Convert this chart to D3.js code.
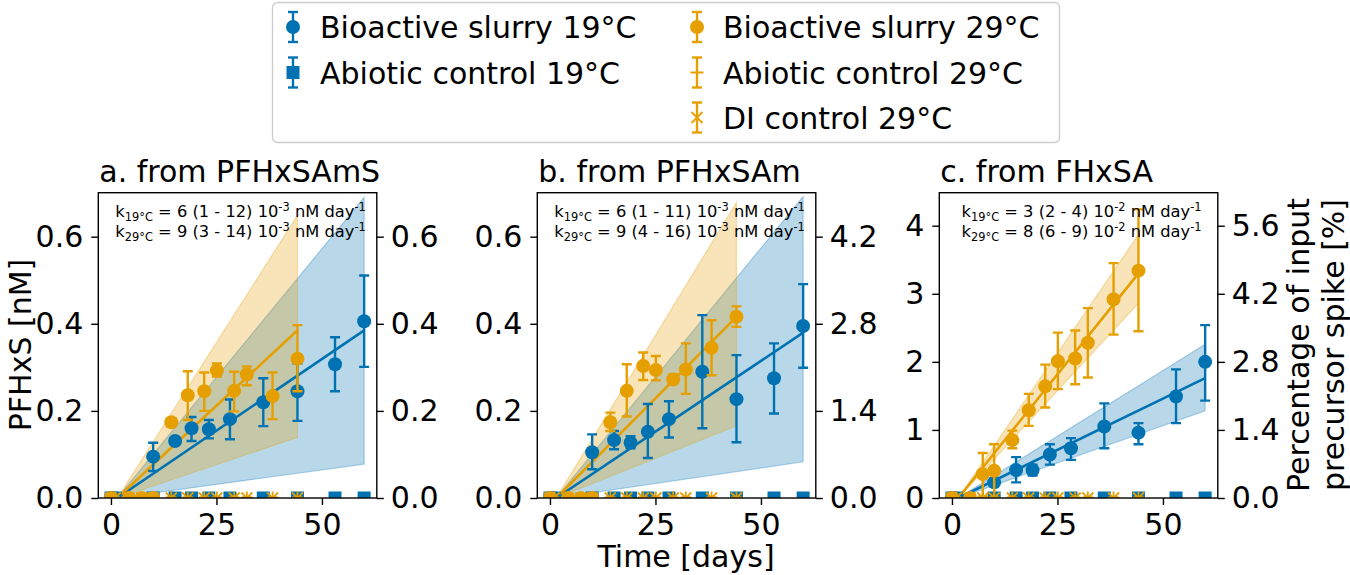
<!DOCTYPE html>
<html><head><meta charset="utf-8">
<script src="https://cdn.jsdelivr.net/npm/d3@7"></script>
<style>body{margin:0;background:#fff} svg{display:block} text{font-family:"DejaVu Sans",sans-serif;fill:#000}</style>
</head><body><svg id="c" width="1350" height="575"></svg>
<script>
// ---------------- data ----------------
const panelTitles = ["a. from PFHxSAmS", "b. from PFHxSAm", "c. from FHxSA"];
const days19 = [0, 10, 15.2, 19.1, 23.2, 28.2, 36.1, 44.2, 53.1, 60];
const days29 = [0, 4.3, 7.3, 10, 14.3, 18.2, 22.1, 25.1, 29.2, 32.2, 38.3, 44.2];
const ctrlDays19 = [0, 1, 10, 15.2, 19.1, 23.2, 28.2, 36.1, 44.2, 53.1, 60];
const ctrlDays29 = [0, 1, 4.3, 7.3, 10, 14.3, 18.2, 22.1, 25.1, 29.2, 32.2, 38.3, 44.2];

const a19   = [0, 0.095, 0.131, 0.160, 0.158, 0.181, 0.220, 0.245, 0.307, 0.406];
const a19lo = [0, 0.062, 0.125, 0.131, 0.137, 0.135, 0.165, 0.177, 0.245, 0.301];
const a19hi = [0, 0.127, 0.137, 0.186, 0.179, 0.226, 0.275, 0.309, 0.369, 0.511];
const a29   = [0, 0, 0, 0, 0.174, 0.236, 0.245, 0.293, 0.246, 0.284, 0.234, 0.320];
const a29lo = [0, 0, 0, 0, 0.164, 0.179, 0.200, 0.279, 0.199, 0.259, 0.181, 0.245];
const a29hi = [0, 0, 0, 0, 0.183, 0.291, 0.288, 0.309, 0.290, 0.302, 0.288, 0.397];

const b19   = [0, 0.105, 0.133, 0.127, 0.152, 0.181, 0.290, 0.227, 0.275, 0.395];
const b19lo = [0, 0.066, 0.112, 0.114, 0.092, 0.139, 0.160, 0.128, 0.194, 0.299];
const b19hi = [0, 0.146, 0.154, 0.142, 0.216, 0.222, 0.420, 0.328, 0.355, 0.491];
const b29   = [0, 0, 0, 0, 0.174, 0.246, 0.303, 0.294, 0.272, 0.295, 0.345, 0.416];
const b29lo = [0, 0, 0, 0, 0.154, 0.187, 0.271, 0.270, 0.264, 0.239, 0.282, 0.393];
const b29hi = [0, 0, 0, 0, 0.196, 0.307, 0.334, 0.326, 0.284, 0.355, 0.408, 0.440];

const c19   = [0, 0.23, 0.41, 0.41, 0.64, 0.73, 1.05, 0.96, 1.49, 2.00];
const c19lo = [0, 0.20, 0.23, 0.33, 0.49, 0.56, 0.73, 0.79, 1.10, 1.43];
const c19hi = [0, 0.26, 0.60, 0.49, 0.79, 0.88, 1.39, 1.10, 1.89, 2.54];
const c29   = [0, 0, 0.35, 0.40, 0.85, 1.29, 1.64, 2.01, 2.05, 2.28, 2.92, 3.34];
const c29lo = [0, 0, 0.02, 0.00, 0.73, 1.06, 1.33, 1.60, 1.67, 1.77, 2.40, 2.45];
const c29hi = [0, 0, 0.66, 0.79, 0.99, 1.53, 1.96, 2.43, 2.46, 2.79, 3.45, 4.24];

// fitted rate lines: y = k (t - t0)
const fitT0 = 1.5;
const fitEnd19 = 60, fitEnd29 = 44.2;
const k19   = [0.00658, 0.00649, 0.0301];
const k19lo = [0.00133, 0.00142, 0.0219];
const k19hi = [0.0118, 0.01183, 0.0386];
const k29   = [0.00902, 0.00974, 0.0773];
const k29lo = [0.00326, 0.00388, 0.0670];
const k29hi = [0.0152, 0.0159, 0.0906];

const kText19 = ["6 (1 - 12)", "6 (1 - 11)", "3 (2 - 4)"];
const kText29 = ["9 (3 - 14)", "9 (4 - 16)", "8 (6 - 9)"];
const kExp = ["-3", "-3", "-2"];

const xTicks = [0, 25, 50];
const yMax = [0.701, 0.701, 4.485];
const yTicksLeft = [[0, 0.2, 0.4, 0.6], [0, 0.2, 0.4, 0.6], [0, 1, 2, 3, 4]];
const rightFactor = [1, 7, 1.4];
const yTicksRight = [[0, 0.2, 0.4, 0.6], [0, 1.4, 2.8, 4.2], [0, 1.4, 2.8, 4.2, 5.6]];

const legendLabels = ["Bioactive slurry 19°C", "Abiotic control 19°C", "Bioactive slurry 29°C", "Abiotic control 29°C", "DI control 29°C"];

// ---------------- drawing ----------------
const series19 = [[a19, a19lo, a19hi], [b19, b19lo, b19hi], [c19, c19lo, c19hi]];
const series29 = [[a29, a29lo, a29hi], [b29, b29lo, b29hi], [c29, c29lo, c29hi]];
const C19 = "#0072B2", C29 = "#E69F00";
const FS = 30;
const svg = d3.select("#c");
const defs = svg.append("defs");
const axTop = 192.7, axBot = 498, axW = 278.5;
const axLeft = [98.3, 537.3, 939.3];
const R = 7, CAP = 5, EW = 2.4;

function drawMarker(g, type, cx, cy, color) {
  if (type === "o") g.append("circle").attr("cx", cx).attr("cy", cy).attr("r", R).attr("fill", color);
  else if (type === "s") g.append("rect").attr("x", cx - 6.5).attr("y", cy - 6.5).attr("width", 13).attr("height", 13).attr("fill", color);
  else if (type === "+") {
    g.append("path").attr("d", `M${cx-6.5},${cy}H${cx+6.5}M${cx},${cy-6.5}V${cy+6.5}`).attr("stroke", color).attr("stroke-width", 1.8).attr("fill", "none");
  } else if (type === "x") {
    g.append("path").attr("d", `M${cx-5.5},${cy-5.5}L${cx+5.5},${cy+5.5}M${cx-5.5},${cy+5.5}L${cx+5.5},${cy-5.5}`).attr("stroke", color).attr("stroke-width", 1.8).attr("fill", "none");
  }
}
function drawErr(g, cx, yLo, yHi, color) {
  g.append("line").attr("x1", cx).attr("x2", cx).attr("y1", yLo).attr("y2", yHi).attr("stroke", color).attr("stroke-width", EW);
  [yLo, yHi].forEach(yy => g.append("line").attr("x1", cx - CAP).attr("x2", cx + CAP).attr("y1", yy).attr("y2", yy).attr("stroke", color).attr("stroke-width", EW));
}

panelTitles.forEach((title, i) => {
  const x = d3.scaleLinear().domain([-3, 63]).range([axLeft[i], axLeft[i] + axW]);
  const y = d3.scaleLinear().domain([0, yMax[i]]).range([axBot, axTop]);
  const yR = d3.scaleLinear().domain([0, yMax[i] * rightFactor[i]]).range([axBot, axTop]);
  const g = svg.append("g");
  const cid = "clip" + i;
  defs.append("clipPath").attr("id", cid).append("rect")
    .attr("x", axLeft[i]).attr("y", axTop).attr("width", axW).attr("height", axBot - axTop);
  const plot = g.append("g").attr("clip-path", `url(#${cid})`);

  const fits = [
    {k: k19[i], lo: k19lo[i], hi: k19hi[i], end: fitEnd19, c: C19},
    {k: k29[i], lo: k29lo[i], hi: k29hi[i], end: fitEnd29, c: C29}
  ];
  fits.forEach(f => {
    const area = d3.area().x(t => x(t)).y0(t => y(f.lo * (t - fitT0))).y1(t => y(f.hi * (t - fitT0)));
    plot.append("path").attr("d", area([fitT0, f.end]) + "Z").attr("fill", f.c).attr("fill-opacity", 0.28)
      .attr("stroke", f.c).attr("stroke-opacity", 0.3).attr("stroke-width", 1.2);
  });
  fits.forEach(f => {
    const line = d3.line().x(t => x(t)).y(t => y(f.k * (t - fitT0)));
    plot.append("path").attr("d", line([fitT0, f.end])).attr("stroke", f.c).attr("stroke-width", 2.6).attr("fill", "none");
  });

  const [v19, lo19, hi19] = series19[i];
  days19.forEach((d, j) => drawErr(plot, x(d), y(lo19[j]), y(hi19[j]), C19));
  days19.forEach((d, j) => drawMarker(plot, "o", x(d), y(v19[j]), C19));
  ctrlDays19.forEach(d => { drawErr(plot, x(d), y(0), y(0), C19); drawMarker(plot, "s", x(d), y(0), C19); });
  const [v29, lo29, hi29] = series29[i];
  days29.forEach((d, j) => drawErr(plot, x(d), y(lo29[j]), y(hi29[j]), C29));
  days29.forEach((d, j) => drawMarker(plot, "o", x(d), y(v29[j]), C29));
  ctrlDays29.forEach(d => { drawErr(plot, x(d), y(0), y(0), C29); drawMarker(plot, "+", x(d), y(0), C29); });
  ctrlDays29.forEach(d => { drawErr(plot, x(d), y(0), y(0), C29); drawMarker(plot, "x", x(d), y(0), C29); });

  g.append("rect").attr("x", axLeft[i]).attr("y", axTop).attr("width", axW).attr("height", axBot - axTop)
    .attr("fill", "none").attr("stroke", "#000").attr("stroke-width", 1.4);

  const styleAxis = a => { a.select(".domain").remove(); a.selectAll("line").attr("stroke-width", 1.4); a.selectAll("text").attr("font-size", FS).attr("font-family", "DejaVu Sans"); };
  g.append("g").attr("transform", `translate(0,${axBot})`)
    .call(d3.axisBottom(x).tickValues(xTicks).tickSize(7).tickPadding(9).tickFormat(d3.format("d"))).call(styleAxis);
  g.append("g").attr("transform", `translate(${axLeft[i]},0)`)
    .call(d3.axisLeft(y).tickValues(yTicksLeft[i]).tickSize(7).tickPadding(8).tickFormat(d3.format(i === 2 ? "d" : ".1f"))).call(styleAxis);
  g.append("g").attr("transform", `translate(${axLeft[i] + axW},0)`)
    .call(d3.axisRight(yR).tickValues(yTicksRight[i]).tickSize(7).tickPadding(7).tickFormat(d3.format(".1f"))).call(styleAxis);

  g.append("text").attr("x", axLeft[i] + 1).attr("y", 182).attr("font-size", FS).text(title);

  const xc = axLeft[i] + axW / 2 + 3;
  [["19°C", kText19[i], 217], ["29°C", kText29[i], 237]].forEach(([sub, val, yb]) => {
    const t = g.append("text").attr("x", xc).attr("y", yb).attr("text-anchor", "middle").attr("font-size", 16.3);
    t.append("tspan").text("k");
    t.append("tspan").attr("font-size", 11.4).attr("dy", 4).text(sub);
    t.append("tspan").attr("dy", -4).text(" = " + val + " 10");
    t.append("tspan").attr("font-size", 11.4).attr("dy", -6.5).text(kExp[i]);
    t.append("tspan").attr("dy", 6.5).text(" nM day");
    t.append("tspan").attr("font-size", 11.4).attr("dy", -6.5).text("-1");
  });
});

svg.append("text").attr("transform", "translate(31,345) rotate(-90)").attr("text-anchor", "middle").attr("font-size", FS).text("PFHxS [nM]");
svg.append("text").attr("x", 686).attr("y", 567).attr("text-anchor", "middle").attr("font-size", FS).text("Time [days]");
svg.append("text").attr("transform", "translate(1309,345) rotate(-90)").attr("text-anchor", "middle").attr("font-size", FS).text("Percentage of input");
svg.append("text").attr("transform", "translate(1344,345) rotate(-90)").attr("text-anchor", "middle").attr("font-size", FS).text("precursor spike [%]");

const lg = svg.append("g");
lg.append("rect").attr("x", 272.5).attr("y", 2.5).attr("width", 787).attr("height", 140).attr("rx", 5)
  .attr("fill", "#fff").attr("stroke", "#cccccc").attr("stroke-width", 1.3);
const legendSpec = [
  {col: 0, row: 0, c: C19, m: "o"}, {col: 0, row: 1, c: C19, m: "s"},
  {col: 1, row: 0, c: C29, m: "o"}, {col: 1, row: 1, c: C29, m: "+"}, {col: 1, row: 2, c: C29, m: "x"}
];
const colMX = [293, 697], colTX = [320, 723], rowY = [27, 72.5, 117.5];
legendSpec.forEach((s, j) => {
  const cx = colMX[s.col], cy = rowY[s.row];
  drawErr(lg, cx, cy + 15, cy - 15, s.c);
  drawMarker(lg, s.m, cx, cy, s.c);
  lg.append("text").attr("x", colTX[s.col]).attr("y", cy + 11).attr("font-size", FS).text(legendLabels[j]);
});
</script></body></html>
